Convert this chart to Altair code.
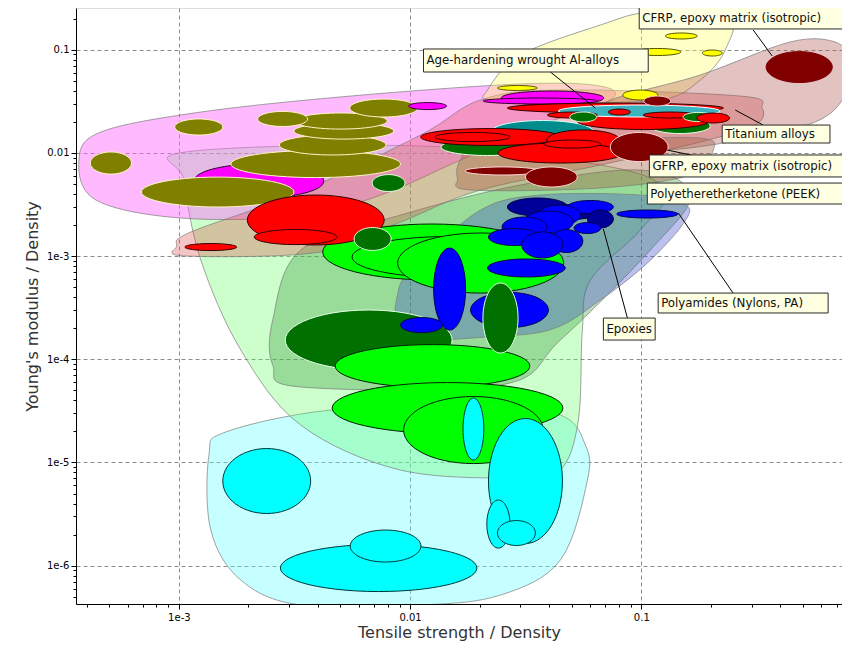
import numpy as np
import pandas as pd
import altair as alt

# ---------------- axis ranges (data units) ----------------
X_DOMAIN = [3.59e-4, 0.738]
Y_DOMAIN = [4.25e-7, 0.253]

# ---------------- material ellipses: (family, log10 cx, log10 cy, half-width dec, half-height dec) ----------------
lime_upper = [
    ("lime", -1.907, -2.961, 0.471, 0.271),
    ("lime", -1.834, -3.010, 0.417, 0.199),
    ("lime", -1.695, -3.068, 0.359, 0.291),
]
left_cluster = [
    ("magenta", -2.654, -2.273, 0.281, 0.165),
    ("olive", -2.408, -2.109, 0.367, 0.131),
    ("olive", -2.832, -2.380, 0.330, 0.145),
    ("olive", -2.335, -1.924, 0.231, 0.097),
    ("olive", -2.287, -1.789, 0.216, 0.078),
    ("olive", -2.300, -1.692, 0.201, 0.078),
    ("olive", -3.294, -2.099, 0.089, 0.107),
    ("olive", -2.914, -1.750, 0.104, 0.078),
    ("olive", -2.551, -1.672, 0.108, 0.073),
    ("olive", -2.114, -1.566, 0.147, 0.087),
    ("magenta", -1.924, -1.547, 0.082, 0.034),
    ("red", -2.408, -2.651, 0.296, 0.242),
    ("red", -2.495, -2.816, 0.179, 0.073),
    ("red", -2.862, -2.913, 0.112, 0.034),
    ("dkgreen", -2.093, -2.293, 0.071, 0.082),
    ("dkgreen", -2.162, -2.835, 0.080, 0.111),
]
top_cluster = [
    ("yellow", -1.536, -1.372, 0.086, 0.024),
    ("yellow", -1.004, -1.440, 0.076, 0.048),
    ("magenta", -1.384, -1.469, 0.222, 0.068),
    ("magenta", -1.436, -1.498, 0.248, 0.029),
    ("teal", -1.428, -1.798, 0.222, 0.111),
    ("dkgreen", -1.665, -1.944, 0.201, 0.082),
    ("red", -1.652, -1.847, 0.302, 0.082),
    ("red", -1.730, -1.847, 0.162, 0.044),
    ("dkgreen", -0.832, -1.740, 0.130, 0.073),
    ("red", -0.991, -1.692, 0.287, 0.082),
    ("red", -1.251, -1.876, 0.158, 0.097),
    ("red", -1.350, -2.002, 0.270, 0.097),
    ("red", -1.298, -1.915, 0.123, 0.039),
    ("dkred", -1.009, -1.944, 0.125, 0.141),
    ("red", -1.112, -1.566, 0.467, 0.048),
    ("lteal", -1.009, -1.595, 0.350, 0.058),
    ("red", -1.095, -1.605, 0.048, 0.029),
    ("red", -1.298, -1.634, 0.108, 0.029),
    ("red", -0.875, -1.634, 0.117, 0.029),
    ("dkgreen", -1.251, -1.653, 0.058, 0.048),
    ("dkgreen", -0.754, -1.653, 0.065, 0.044),
    ("red", -0.689, -1.663, 0.071, 0.048),
    ("dkred", -0.931, -1.498, 0.058, 0.048),
    ("dkred", -1.600, -2.176, 0.162, 0.039),
    ("dkred", -1.389, -2.234, 0.112, 0.097),
    ("yellow", -0.827, -0.868, 0.069, 0.029),
    ("yellow", -0.931, -1.023, 0.102, 0.034),
    ("yellow", -0.693, -1.033, 0.043, 0.029),
    ("cfrp", -0.317, -1.169, 0.143, 0.150),
]
blue_cluster = [
    ("navy", -1.449, -2.525, 0.130, 0.087),
    ("navy", -1.307, -2.574, 0.119, 0.073),
    ("blue", -1.220, -2.525, 0.099, 0.063),
    ("blue", -1.354, -2.603, 0.091, 0.097),
    ("navy", -1.177, -2.641, 0.056, 0.087),
    ("blue", -1.402, -2.671, 0.108, 0.107),
    ("blue", -1.505, -2.719, 0.097, 0.097),
    ("blue", -1.549, -2.816, 0.112, 0.082),
    ("blue", -1.233, -2.729, 0.058, 0.053),
    ("blue", -1.324, -2.855, 0.071, 0.111),
    ("blue", -1.428, -2.893, 0.089, 0.126),
    ("blue", -0.974, -2.593, 0.132, 0.039),
]
mid_lower = [
    ("dkgreen", -2.179, -3.814, 0.361, 0.291),
    ("blue", -1.829, -3.320, 0.069, 0.397),
    ("blue", -1.497, -3.116, 0.168, 0.087),
    ("blue", -1.950, -3.669, 0.091, 0.073),
    ("lime", -1.903, -4.066, 0.421, 0.208),
    ("blue", -1.570, -3.523, 0.168, 0.170),
    ("dkgreen", -1.609, -3.601, 0.076, 0.339),
    ("lime", -1.838, -4.473, 0.499, 0.247),
    ("lime", -1.726, -4.686, 0.302, 0.325),
    ("cyan", -1.726, -4.676, 0.045, 0.300),
]
cyan_cluster = [
    ("cyan", -2.620, -5.180, 0.190, 0.315),
    ("cyan", -2.136, -6.023, 0.425, 0.228),
    ("cyan", -2.106, -5.810, 0.153, 0.155),
    ("cyan", -1.501, -5.180, 0.160, 0.606),
    ("cyan", -1.618, -5.597, 0.050, 0.233),
    ("cyan", -1.540, -5.684, 0.082, 0.121),
]

FAMILY_STYLE = {
    "olive": ("#808000", "#fff4c8"),
    "magenta": ("#ff00ff", "#300030"),
    "red": ("#ff0000", "#300000"),
    "dkred": ("#800000", "#ffd8d8"),
    "cfrp": ("#800000", "#800000"),
    "dkgreen": ("#007000", "#e8ffe8"),
    "lime": ("#00ff00", "#002000"),
    "blue": ("#0000ff", "#000050"),
    "navy": ("#000098", "#000040"),
    "cyan": ("#00ffff", "#003838"),
    "yellow": ("#ffff00", "#505000"),
    "teal": ("#008c8c", "#d8ffff"),
    "lteal": ("#3cb4c0", "#ffffff"),
}

# ---------------- envelopes (log10 vertices) ----------------
envelopes = [
    ("cyan", "#60ffff", 0.36,
     [-2.870, -2.797, -2.343, -1.695, -1.350, -1.242, -1.233, -1.350, -1.609, -1.955, -2.473, -2.732, -2.862],
     [-4.928, -4.705, -4.492, -4.444, -4.541, -4.831, -5.171, -5.946, -6.285, -6.382, -6.382, -6.140, -5.655]),
    ("green", "#60ff60", 0.32,
     [-2.970, -1.955, -1.177, -0.896, -1.004, -1.220, -1.255, -1.272, -1.350, -1.523, -2.041, -2.473, -2.732, -2.905, -2.978],
     [-1.992, -1.934, -2.118, -2.360, -2.748, -3.233, -3.717, -4.589, -5.074, -5.151, -5.074, -4.638, -3.911, -3.039, -2.264]),
    ("dkgreen", "#248a24", 0.30,
     [-2.594, -2.473, -2.041, -1.523, -1.004, -0.788, -0.961, -1.350, -1.609, -2.473, -2.594],
     [-3.620, -2.942, -2.603, -2.312, -2.167, -2.409, -2.942, -3.814, -4.250, -4.269, -4.056]),
    ("blue", "#3c4cc8", 0.35,
     [-2.050, -1.955, -1.695, -1.436, -1.004, -0.806, -0.823, -0.983, -1.177, -1.371, -1.609, -2.019],
     [-3.329, -3.058, -2.554, -2.409, -2.409, -2.506, -2.700, -3.087, -3.426, -3.698, -3.775, -3.775]),
    ("pink", "#ff66ff", 0.45,
     [-3.432, -3.337, -2.905, -2.257, -1.523, -1.177, -1.134, -1.436, -1.782, -2.127, -2.473, -2.991, -3.359],
     [-2.070, -1.798, -1.605, -1.450, -1.333, -1.353, -1.488, -1.731, -2.070, -2.409, -2.612, -2.632, -2.457]),
    ("redenv", "#e04848", 0.32,
     [-3.009, -2.948, -2.473, -1.955, -1.695, -1.350, -0.572, -0.477, -0.508, -0.745, -1.177, -1.695, -2.041, -2.387, -2.970],
     [-2.903, -2.767, -2.380, -1.828, -1.488, -1.391, -1.450, -1.566, -1.731, -1.895, -2.118, -2.360, -2.671, -2.961, -3.000]),
    ("yellow", "#ffff60", 0.35,
     [-1.665, -1.523, -1.177, -0.961, -0.624, -0.637, -0.745, -0.918, -1.350, -1.652],
     [-1.391, -1.052, -0.762, -0.636, -0.665, -1.004, -1.295, -1.488, -1.508, -1.488]),
    ("mauve", "#b05050", 0.35,
     [-1.177, -0.745, -0.356, -0.162, -0.106, -0.119, -0.248, -0.572, -0.918, -1.177],
     [-1.537, -1.246, -0.926, -0.926, -1.101, -1.440, -1.702, -1.876, -1.973, -1.876]),
    ("tan", "#a05a3c", 0.38,
     [-1.782, -1.695, -1.177, -0.745, -0.689, -0.788, -1.177, -1.739, -1.795],
     [-2.070, -1.953, -1.876, -1.857, -1.973, -2.215, -2.341, -2.360, -2.244]),
]

# ---------------- annotations ----------------
label_text = ["CFRP, epoxy matrix (isotropic)", "Age-hardening wrought Al-alloys", "Titanium alloys",
              "GFRP, epoxy matrix (isotropic)", "Polyetheretherketone (PEEK)", "Polyamides (Nylons, PA)", "Epoxies"]
label_box_lx = [(-1.009, -0.119), (-1.942, -0.970), (-0.650, -0.184), (-0.965, -0.119),
                (-0.974, -0.127), (-0.927, -0.192), (-1.164, -0.940)]
label_box_ly = [(-0.578, -0.800), (-0.994, -1.217), (-1.731, -1.905), (-2.021, -2.234),
                (-2.293, -2.496), (-3.359, -3.552), (-3.601, -3.814)]
leader_lines = [(-0.516, -0.810, -0.434, -1.062), (-1.393, -1.217, -1.199, -1.566),
                (-0.473, -1.731, -0.594, -1.585), (-0.888, -1.973, -0.745, -2.041),
                (-0.603, -3.359, -0.840, -2.583), (-1.060, -3.601, -1.164, -2.738)]

# ---------------- build tables ----------------
ell_order = lime_upper + left_cluster + top_cluster + blue_cluster + mid_lower + cyan_cluster
t = np.linspace(0, 2 * np.pi, 56, endpoint=False)
rows = []
for k, (fam, cx, cy, rx, ry) in enumerate(ell_order):
    f, s = FAMILY_STYLE[fam]
    for i, a in enumerate(t):
        rows.append({"id": f"e{k:03d}", "i": i, "x": 10 ** (cx + rx * np.cos(a)),
                     "y": 10 ** (cy + ry * np.sin(a)), "fill": f, "stroke": s})
ell_df = pd.DataFrame(rows)

erows = []
for k, (name, col, op, lxs, lys) in enumerate(envelopes):
    for i, (a, b) in enumerate(zip(lxs, lys)):
        erows.append({"id": f"v{k:02d}", "i": i, "x": 10 ** a, "y": 10 ** b, "fill": col, "fo": op})
env_df = pd.DataFrame(erows)

box_df = pd.DataFrame({
    "text": label_text,
    "x": [10 ** a for a, b in label_box_lx], "x2": [10 ** b for a, b in label_box_lx],
    "y": [10 ** a for a, b in label_box_ly], "y2": [10 ** b for a, b in label_box_ly],
    "ym": [10 ** ((a + b) / 2) for a, b in label_box_ly],
})
lead_df = pd.DataFrame({
    "x": [10 ** r[0] for r in leader_lines], "y": [10 ** r[1] for r in leader_lines],
    "x2": [10 ** r[2] for r in leader_lines], "y2": [10 ** r[3] for r in leader_lines],
})

# ---------------- axes ----------------
mult = [1, 2, 3, 4, 5, 6, 7, 8, 9]
x_ticks = [m * 10.0 ** d for d in [-4, -3, -2, -1] for m in mult if X_DOMAIN[0] <= m * 10.0 ** d <= X_DOMAIN[1]]
y_ticks = [m * 10.0 ** d for d in [-7, -6, -5, -4, -3, -2, -1] for m in mult if Y_DOMAIN[0] <= m * 10.0 ** d <= Y_DOMAIN[1]]

IS_DEC = "abs(log(datum.value)/LN10 - round(log(datum.value)/LN10)) < 1e-6"
LABEL = f"({IS_DEC}) ? (datum.value >= 0.01 ? format(datum.value, '~g') : '1e' + round(log(datum.value)/LN10)) : ''"


def make_axis(title, values, orient):
    return alt.Axis(
        title=title, values=values, labelExpr=LABEL, labelOverlap=False,
        grid=True, gridColor="#8c8c8c", gridDash=[4, 3], gridWidth=1,
        gridOpacity={"condition": {"test": IS_DEC, "value": 1}, "value": 0},
        tickSize={"condition": {"test": IS_DEC, "value": 5}, "value": 3},
        tickColor="#000000", domainColor="#000000",
        labelFont="DejaVu Sans", labelFontSize=10, labelColor="#000000",
        labelPadding=2 if orient == "y" else 3,
        titleFont="DejaVu Sans", titleFontSize=16, titleFontWeight="normal", titleColor="#333333",
        titlePadding=2 if orient == "x" else 6,
    )


xs = alt.Scale(type="log", domain=X_DOMAIN, nice=False)
ys = alt.Scale(type="log", domain=Y_DOMAIN, nice=False)

env_layer = alt.Chart(env_df).mark_line(interpolate="cardinal-closed", strokeWidth=1, clip=True,
                                         stroke="#7a7a7a", strokeOpacity=0.7).encode(
    x=alt.X("x:Q", scale=xs, axis=make_axis("Tensile strength / Density", x_ticks, "x")),
    y=alt.Y("y:Q", scale=ys, axis=make_axis("Young's modulus / Density", y_ticks, "y")),
    order=alt.Order("i:Q"),
    detail="id:N",
    fill=alt.Fill("fill:N", scale=None),
    fillOpacity=alt.FillOpacity("fo:Q", scale=None),
)

ell_layer = alt.Chart(ell_df).mark_line(interpolate="linear-closed", strokeWidth=1, clip=True).encode(
    x=alt.X("x:Q", scale=xs),
    y=alt.Y("y:Q", scale=ys),
    order=alt.Order("i:Q"),
    detail="id:N",
    fill=alt.Fill("fill:N", scale=None),
    stroke=alt.Stroke("stroke:N", scale=None),
)

lead_layer = alt.Chart(lead_df).mark_rule(color="#000000", strokeWidth=1, clip=True).encode(
    x=alt.X("x:Q", scale=xs), y=alt.Y("y:Q", scale=ys), x2="x2:Q", y2="y2:Q")

box_layer = alt.Chart(box_df).mark_rect(fill="#ffffe1", stroke="#2a2a2a", strokeWidth=1, clip=True).encode(
    x=alt.X("x:Q", scale=xs), x2="x2:Q", y=alt.Y("y:Q", scale=ys), y2="y2:Q")

text_layer = alt.Chart(box_df).mark_text(align="left", baseline="middle", dx=3, font="DejaVu Sans",
                                         fontSize=11.8, color="#111111", clip=True).encode(
    x=alt.X("x:Q", scale=xs), y=alt.Y("ym:Q", scale=ys), text="text:N")

chart = alt.layer(env_layer, ell_layer, lead_layer, box_layer, text_layer).properties(
    width=766, height=596,
    autosize=alt.AutoSizeParams(type="none"),
    padding={"left": 68, "top": 0, "right": 0, "bottom": 37},
).configure_view(stroke="#000000", strokeWidth=1).configure(background="white")

chart.save("out.html", embed_options={"renderer": "svg", "actions": False})
